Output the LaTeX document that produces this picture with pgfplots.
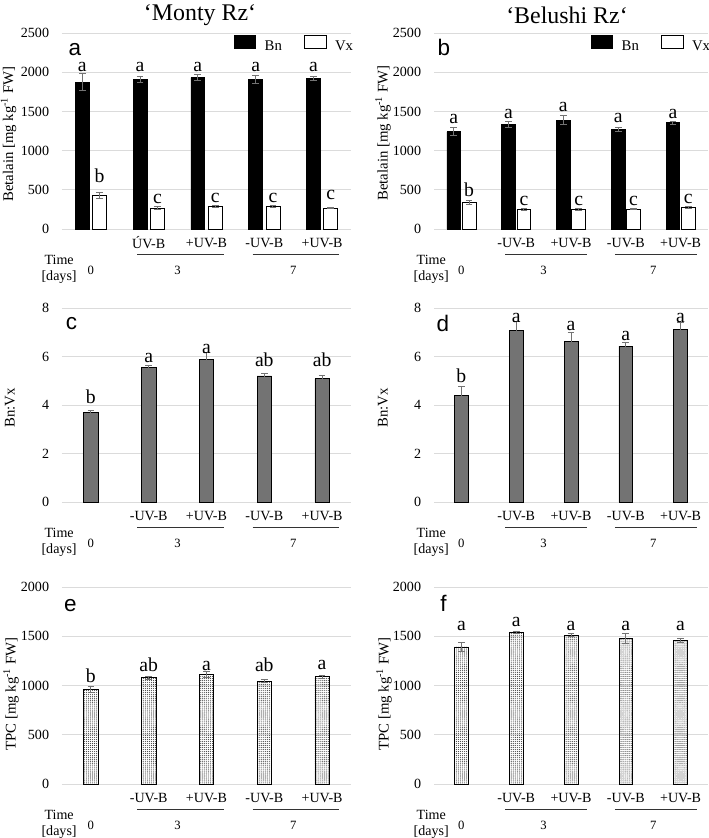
\documentclass[border=0pt]{standalone}
\usepackage{fontspec}
\setmainfont{Liberation Serif}
\newfontfamily\sansf{Liberation Sans}
\usepackage{pgfplots}
\pgfplotsset{compat=1.18}
\usetikzlibrary{patterns.meta}
\newcommand{\fs}[1]{\fontsize{#1}{#1}\selectfont}
\pgfplotsset{
  base/.style={scale only axis, anchor=south west, xmin=-0.5, xmax=4.5, ymin=0,
    clip=false, axis line style={draw=none}, major tick length=0pt, tick style={draw=none},
    ymajorgrids, grid style={black!14, line width=0.6pt},
    xtick={1,2,3,4},
    xticklabel style={anchor=center, yshift=-3.5mm, font=\fs{10}},
    yticklabel style={xshift=-2mm, font=\fs{10}},
    /pgf/number format/assume math mode=true, /pgf/number format/1000 sep={}},
  eb/.style={error bars/y dir=both, error bars/y explicit,
    error bars/error bar style={line width=0.7pt, color=black!55},
    error bars/error mark options={rotate=90, line width=0.7pt, color=black!55, mark size=2.4pt}},
  legb/.style={legend style={at={(1,1)}, anchor=north east, xshift=1.3mm, yshift=-0.4mm, draw=none, fill=none,
    font=\fs{10.5}, legend columns=2, inner sep=0pt,
    /tikz/every odd column/.append style={column sep=1.5mm},
    /tikz/every even column/.append style={column sep=4.8mm}}},
  bnbar/.style={ybar, bar shift=0pt, fill=black, draw=black, line width=0.5pt, eb,
    legend image code/.code={\draw[fill=black,draw=black,line width=0.5pt] (0mm,-0.35mm) rectangle (5.4mm,2.9mm);}},
  vxbar/.style={ybar, bar shift=0pt, fill=white, draw=black, line width=0.5pt, eb,
    legend image code/.code={\draw[fill=white,draw=black,line width=0.5pt] (0mm,-0.35mm) rectangle (5.4mm,2.9mm);}},
  ratiobar/.style={ybar, bar width=0.25, bar shift=0pt, fill=black!55, draw=black, line width=0.5pt, eb},
  tpcbar/.style={ybar, bar width=0.25, bar shift=0pt, pattern={Dots[distance=1.4pt, radius=0.4pt]}, pattern color=black!75, draw=black, line width=0.5pt, eb},
}
\newcommand{\timeaxis}{%
  \draw[black!80, line width=0.5pt] ([yshift=-6.25mm]axis cs:0.8,0) -- ([yshift=-6.25mm]axis cs:2.3,0);
  \draw[black!80, line width=0.5pt] ([yshift=-6.25mm]axis cs:2.8,0) -- ([yshift=-6.25mm]axis cs:4.3,0);
  \node[font=\fs{9}] at ([yshift=-10.25mm]axis cs:0,0) {0};
  \node[font=\fs{9}] at ([yshift=-10.25mm]axis cs:1.5,0) {3};
  \node[font=\fs{9}] at ([yshift=-10.25mm]axis cs:3.5,0) {7};
  \node[font=\fs{10}] at ([yshift=-7.75mm]axis cs:-0.55,0) {Time};
  \node[font=\fs{10}] at ([yshift=-12mm]axis cs:-0.55,0) {[days]};
}
\newcommand{\lab}[3]{\node[anchor=base, font=\fs{14}, inner sep=0pt] at (axis cs:#1,#2) {#3};}
\begin{document}
\begin{tikzpicture}
\useasboundingbox (0,0) rectangle (177.25mm,-209.5mm);
% titles
\node[font=\fs{17}] at ({200*0.25mm},{-15*0.25mm}) {‘Monty Rz‘};
\node[font=\fs{17}] at ({567*0.25mm},{-15*0.25mm}) {‘Belushi Rz‘};
% panel letters
\node[anchor=base, font=\sansf\fs{16}, inner sep=0pt] at ({75*0.25mm},{-55*0.25mm}) {a};
\node[anchor=base, font=\sansf\fs{16}, inner sep=0pt] at ({444*0.25mm},{-55*0.25mm}) {b};
\node[anchor=base, font=\sansf\fs{16}, inner sep=0pt] at ({71.5*0.25mm},{-330*0.25mm}) {c};
\node[anchor=base, font=\sansf\fs{16}, inner sep=0pt] at ({443*0.25mm},{-332*0.25mm}) {d};
\node[anchor=base, font=\sansf\fs{16}, inner sep=0pt] at ({70.5*0.25mm},{-612*0.25mm}) {e};
\node[anchor=base, font=\sansf\fs{16}, inner sep=0pt] at ({443.5*0.25mm},{-612*0.25mm}) {f};
% y labels
\node[rotate=90, font=\fs{10.5}] at ({8.5*0.25mm},{-134*0.25mm}) {Betalain [mg kg\textsuperscript{-1} FW]};
\node[rotate=90, font=\fs{10.5}] at ({383*0.25mm},{-133*0.25mm}) {Betalain [mg kg\textsuperscript{-1} FW]};
\node[rotate=90, font=\fs{10.5}] at ({10*0.25mm},{-408*0.25mm}) {Bn:Vx};
\node[rotate=90, font=\fs{10.5}] at ({383*0.25mm},{-408*0.25mm}) {Bn:Vx};
\node[rotate=90, font=\fs{10.5}] at ({11*0.25mm},{-694*0.25mm}) {TPC [mg kg\textsuperscript{-1} FW]};
\node[rotate=90, font=\fs{10.5}] at ({384*0.25mm},{-694*0.25mm}) {TPC [mg kg\textsuperscript{-1} FW]};

% ---------- panel a ----------
\begin{axis}[base, legb, at={(15.5mm,-57.25mm)}, width=72.25mm, height=49mm,
  ymax=2500, ytick={0,500,...,2500}, xticklabels={ÚV-B,+UV-B,-UV-B,+UV-B}]
\addplot[bnbar, bar width=0.24] coordinates {
  (-0.15,1875) +- (0,105) (0.85,1905) +- (0,40) (1.85,1930) +- (0,40) (2.85,1905) +- (0,50) (3.85,1920) +- (0,30)};
\addlegendentry{Bn}
\addplot[vxbar, bar width=0.24] coordinates {
  (0.15,425) +- (0,40) (1.15,268) +- (0,18) (2.15,290) +- (0,10) (3.15,290) +- (0,10) (4.15,268) +- (0,12)};
\addlegendentry{Vx}
\timeaxis
\lab{-0.15}{2013}{a}\lab{0.85}{2013}{a}\lab{1.85}{2013}{a}\lab{2.85}{2013}{a}\lab{3.85}{2013}{a}
\lab{0.15}{593}{b}\lab{1.15}{330}{c}\lab{2.15}{343}{c}\lab{3.15}{343}{c}\lab{4.15}{373}{c}
\end{axis}

% ---------- panel b ----------
\begin{axis}[base, legb, at={(108.5mm,-57.25mm)}, width=68.5mm, height=49mm,
  ymax=2500, ytick={0,500,...,2500}, xticklabels={-UV-B,+UV-B,-UV-B,+UV-B}]
\addplot[bnbar, bar width=0.25] coordinates {
  (-0.14,1240) +- (0,50) (0.86,1330) +- (0,35) (1.86,1390) +- (0,55) (2.86,1270) +- (0,20) (3.86,1355) +- (0,22)};
\addlegendentry{Bn}
\addplot[vxbar, bar width=0.25] coordinates {
  (0.14,340) +- (0,25) (1.14,246) +- (0,10) (2.14,246) +- (0,15) (3.14,254) +- (0,8) (4.14,275) +- (0,8)};
\addlegendentry{Vx}
\timeaxis
\lab{-0.14}{1347}{a}\lab{0.86}{1411}{a}\lab{1.86}{1496}{a}\lab{2.86}{1356}{a}\lab{3.86}{1411}{a}
\lab{0.14}{415}{b}\lab{1.14}{297}{c}\lab{2.14}{297}{c}\lab{3.14}{297}{c}\lab{4.14}{322}{c}
\end{axis}

% ---------- panel c ----------
\begin{axis}[base, at={(15.5mm,-125.5mm)}, width=72.25mm, height=48.5mm,
  ymax=8, ytick={0,2,...,8}, xticklabels={-UV-B,+UV-B,-UV-B,+UV-B}]
\addplot[ratiobar] coordinates {
  (0,3.68) +- (0,0.1) (1,5.54) +- (0,0.07) (2,5.88) +- (0,0.28) (3,5.20) +- (0,0.1) (4,5.08) +- (0,0.15)};
\timeaxis
\lab{0}{4.05}{b}\lab{1}{5.77}{a}\lab{2}{6.14}{a}\lab{3}{5.59}{ab}\lab{4}{5.59}{ab}
\end{axis}

% ---------- panel d ----------
\begin{axis}[base, at={(108.5mm,-125.5mm)}, width=68.5mm, height=48.5mm,
  ymax=8, ytick={0,2,...,8}, xticklabels={-UV-B,+UV-B,-UV-B,+UV-B}]
\addplot[ratiobar] coordinates {
  (0,4.39) +- (0,0.37) (1,7.06) +- (0,0.37) (2,6.61) +- (0,0.38) (3,6.43) +- (0,0.14) (4,7.13) +- (0,0.26)};
\timeaxis
\lab{0}{4.92}{b}\lab{1}{7.39}{a}\lab{2}{7.09}{a}\lab{3}{6.68}{a}\lab{4}{7.39}{a}
\end{axis}

% ---------- panel e ----------
\begin{axis}[base, at={(15.5mm,-196mm)}, width=72.25mm, height=49.25mm,
  ymax=2000, ytick={0,500,...,2000}, xticklabels={-UV-B,+UV-B,-UV-B,+UV-B}]
\addplot[tpcbar] coordinates {
  (0,960) +- (0,35) (1,1078) +- (0,15) (2,1111) +- (0,32) (3,1044) +- (0,15) (4,1088) +- (0,17)};
\timeaxis
\lab{0}{1027}{b}\lab{1}{1138}{ab}\lab{2}{1155}{a}\lab{3}{1138}{ab}\lab{4}{1162}{a}
\end{axis}

% ---------- panel f ----------
\begin{axis}[base, at={(108.5mm,-196mm)}, width=68.5mm, height=49.25mm,
  ymax=2000, ytick={0,500,...,2000}, xticklabels={-UV-B,+UV-B,-UV-B,+UV-B}]
\addplot[tpcbar] coordinates {
  (0,1392) +- (0,45) (1,1537) +- (0,10) (2,1510) +- (0,15) (3,1476) +- (0,50) (4,1459) +- (0,22)};
\timeaxis
\lab{0}{1554}{a}\lab{1}{1595}{a}\lab{2}{1554}{a}\lab{3}{1554}{a}\lab{4}{1554}{a}
\end{axis}
\end{tikzpicture}
\end{document}
